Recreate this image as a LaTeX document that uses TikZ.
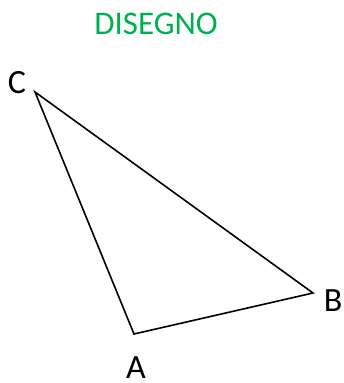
\documentclass[tikz,border=0pt]{standalone}
\usepackage{fontspec}
\setmainfont{Carlito}
\usetikzlibrary{positioning}
\definecolor{titgreen}{HTML}{00B050}

\begin{document}
\begin{tikzpicture}[
    x=1pt,y=-1pt,
    vtx/.style={font=\fontsize{34}{34}\selectfont,inner sep=0pt},
    side/.style={line width=1.6pt,line join=miter}
]
\useasboundingbox (0,0) rectangle (343,383);
% Title
\node[font=\fontsize{33}{33}\selectfont,text=titgreen,inner sep=0pt] (title) at (156,24) {DISEGNO};

% Vertices
\coordinate (A) at (134,334);
\coordinate (B) at (313,293);
\coordinate (C) at (35,92);
\draw[side] (A) -- (B) -- (C) -- cycle;

% Labels
\node[vtx] (labA) at (136,368) {A};
\node[vtx] (labB) at (333,301) {B};
\node[vtx] (labC) at (17,83) {C};
\end{tikzpicture}
\end{document}
